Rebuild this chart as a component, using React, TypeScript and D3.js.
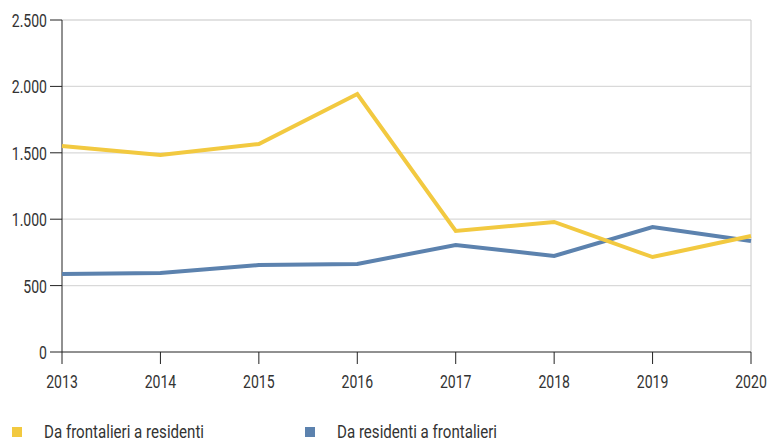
import React from "react";
import * as d3 from "d3";

const years = [2013, 2014, 2015, 2016, 2017, 2018, 2019, 2020];
const frontalieriAResidenti = [1551, 1483, 1566, 1943, 911, 979, 715, 873];
const residentiAFrontalieri = [587, 595, 655, 663, 806, 723, 941, 836];
const yTicks = [0, 500, 1000, 1500, 2000, 2500];
const seriesNames = ["Da frontalieri a residenti", "Da residenti a frontalieri"];
const seriesColors = ["#F2C940", "#5C82AE"];

const W = 767;
const H = 443;
const FONT = "Roboto, 'Liberation Sans', sans-serif";

function T({ x, y, anchor, sx = 0.78, children }: { x: number; y: number; anchor: string; sx?: number; children: React.ReactNode }) {
  return (
    <g transform={`translate(${x},${y}) scale(${sx},1)`}>
      <text x={0} y={0} textAnchor={anchor} fontSize={18} fill="#333">
        {children}
      </text>
    </g>
  );
}

export default function App() {
  const x = d3.scaleLinear().domain([2013, 2020]).range([62, 751]);
  const y = d3.scaleLinear().domain([0, 2500]).range([352, 20]);
  const fmt = (v: number) => d3.format(",")(v).replace(/,/g, ".");
  const line = d3
    .line<number>()
    .x((_, i) => x(years[i]))
    .y((d) => y(d));
  const series = [residentiAFrontalieri, frontalieriAResidenti];
  const colors = [seriesColors[1], seriesColors[0]];
  return (
    <svg
      width={W}
      height={H}
      style={{ position: "absolute", left: 0, top: 0, background: "#fff" }}
      fontFamily={FONT}
    >
      {yTicks.map((t) => (
        <g key={t}>
          {t > 0 && (
            <line x1={62} x2={751} y1={y(t)} y2={y(t)} stroke="#d9d9d9" strokeWidth={1.3} />
          )}
          <line x1={50} x2={62} y1={y(t)} y2={y(t)} stroke="#222" strokeWidth={1} />
          <T x={47} y={y(t) + 7} anchor="end">
            {fmt(t)}
          </T>
        </g>
      ))}
      <line x1={751} x2={751} y1={20} y2={352} stroke="#c8c8c8" strokeWidth={1} />
      <line x1={62} x2={62} y1={20} y2={352} stroke="#222" strokeWidth={1} />
      <line x1={62} x2={751} y1={352} y2={352} stroke="#222" strokeWidth={1} />
      {years.map((yr) => (
        <g key={yr}>
          <line x1={x(yr)} x2={x(yr)} y1={352} y2={364} stroke="#222" strokeWidth={1} />
          <T x={x(yr)} y={388} anchor="middle">
            {yr}
          </T>
        </g>
      ))}
      {series.map((s, i) => (
        <path
          key={i}
          d={line(s) || ""}
          fill="none"
          stroke={colors[i]}
          strokeWidth={4}
          strokeLinejoin="miter"
        />
      ))}
      {seriesNames.map((n, i) => (
        <g key={n}>
          <rect x={i === 0 ? 12 : 305} y={427} width={10} height={10} fill={seriesColors[i]} />
          <T x={i === 0 ? 44 : 337} y={438} anchor="start" sx={0.84}>
            {n}
          </T>
        </g>
      ))}
    </svg>
  );
}
